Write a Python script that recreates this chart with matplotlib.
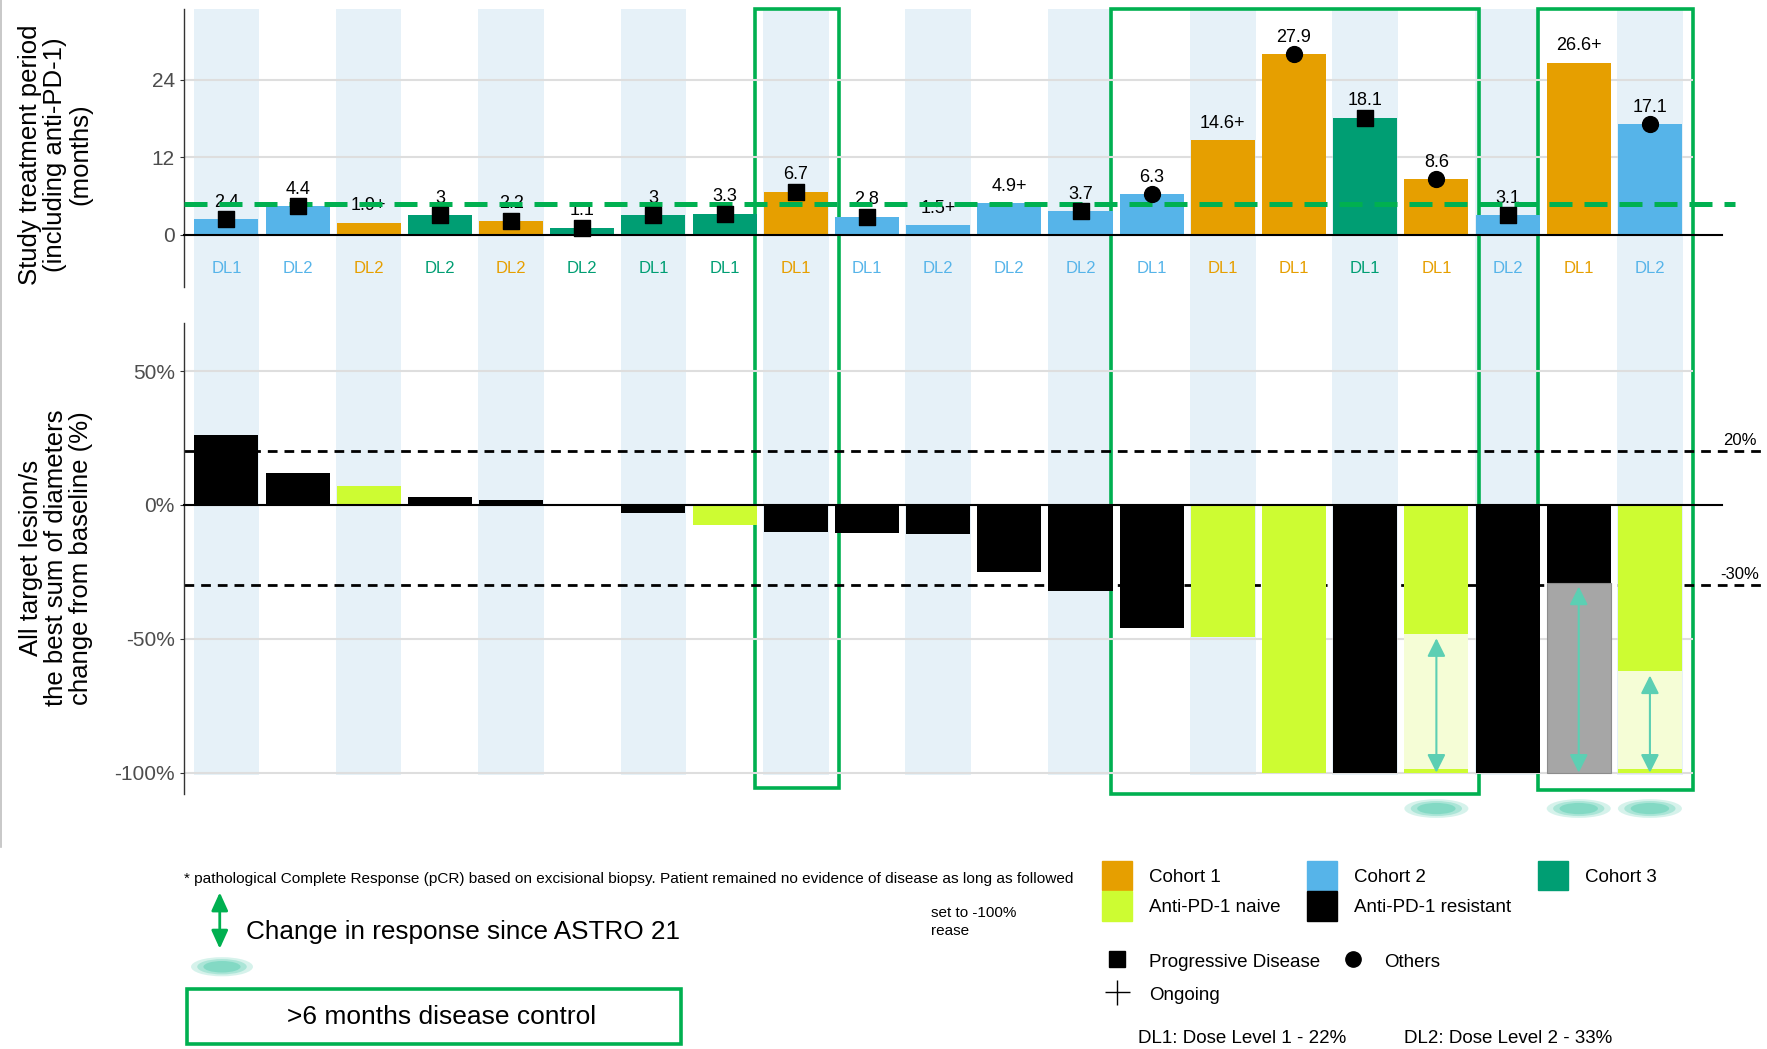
import numpy as np
import matplotlib.pyplot as plt
from matplotlib.patches import Rectangle, Patch, Ellipse
from matplotlib.lines import Line2D
from matplotlib.transforms import blended_transform_factory

plt.rcParams['font.family'] = ['Liberation Sans', 'DejaVu Sans']

# ---- data (one entry per patient, left to right) ----
dose = ['DL1', 'DL2', 'DL2', 'DL2', 'DL2', 'DL2', 'DL1', 'DL1', 'DL1', 'DL1', 'DL2',
        'DL2', 'DL2', 'DL1', 'DL1', 'DL1', 'DL1', 'DL1', 'DL2', 'DL1', 'DL2']
cohort = [2, 2, 1, 3, 1, 3, 3, 3, 1, 2, 2, 2, 2, 2, 1, 1, 3, 1, 2, 1, 2]
months = [2.4, 4.4, 1.9, 3, 2.2, 1.1, 3, 3.3, 6.7, 2.8, 1.5, 4.9, 3.7, 6.3,
          14.6, 27.9, 18.1, 8.6, 3.1, 26.6, 17.1]
month_labels = ['2.4', '4.4', '1.9+', '3', '2.2', '1.1', '3', '3.3', '6.7', '2.8', '1.5+',
                '4.9+', '3.7', '6.3', '14.6+', '27.9', '18.1', '8.6', '3.1', '26.6+', '17.1']
status = ['PD', 'PD', '', 'PD', 'PD', 'PD', 'PD', 'PD', 'PD', 'PD', '', '', 'PD', 'Other',
          '', 'Other', 'PD', 'Other', 'PD', '', 'Other']
response = [26, 12, 7, 3, 2, 0, -3, -7.6, -10, -10.5, -11, -25, -32, -46, -49.5,
            -100, -100, -48.3, -100, -29, -62.2]
pd1 = ['res', 'res', 'naive', 'res', 'res', 'res', 'res', 'naive', 'res', 'res', 'res',
       'res', 'res', 'res', 'naive', 'naive', 'res', 'naive', 'res', 'res', 'naive']
# best response now (change since ASTRO 21), None = unchanged
response_new = [None] * 17 + [-100, None, -100, -100]
# patients with >6 months disease control, grouped as boxed runs
control_groups = [(8, 8), (13, 17), (19, 20)]
control_box_bottom = [699, 705, 701]

cohort_colors = {1: '#E69F00', 2: '#56B4E9', 3: '#009E73'}
pd1_colors = {'naive': '#CDFC32', 'res': '#000000'}
faded = {'naive': '#F5FDD6', 'res': '#A6A6A6'}
green = '#00B050'
teal = '#5CCFB3'
stripe = '#E6F1F8'

W, H = 1568, 931
def fx(px):
    return px / W
def fy(py):
    return 1 - py / H

fig = plt.figure(figsize=(17.67, 10.49), dpi=100)

x = np.arange(len(months))
xlim = (-0.6, 20.6)
left, right = 163, 1502

# background stripes and boxes
bg = fig.add_axes([fx(left), 0, fx(right) - fx(left), 1], zorder=0)
bg.set_xlim(xlim)
bg.set_ylim(0, 1)
bg.axis('off')
bg.bar(x[::2], fy(8) - fy(688), bottom=fy(688), width=0.92, color=stripe)

# top panel: study treatment period
ax1 = fig.add_axes([fx(left), fy(255), fx(right) - fx(left), fy(8) - fy(255)], zorder=1)
ax1.set_facecolor('none')
ax1.set_xlim(xlim)
ax1.set_ylim(-8.1, 34.9)
ax1.bar(x, months, width=0.9, color=[cohort_colors[c] for c in cohort], zorder=2)
for xi, m, lab, c, d in zip(x, months, month_labels, cohort, dose):
    ax1.text(xi, m + 1.9, lab, ha='center', va='baseline', fontsize=13, zorder=3)
    ax1.text(xi, -5.2, d, ha='center', va='center', fontsize=12,
             color=cohort_colors[c])
pd_idx = [i for i, s in enumerate(status) if s == 'PD']
ot_idx = [i for i, s in enumerate(status) if s == 'Other']
ax1.scatter(x[pd_idx], np.array(months)[pd_idx], marker='s', s=120, color='k', zorder=5)
ax1.scatter(x[ot_idx], np.array(months)[ot_idx], marker='o', s=130, color='k', zorder=5)
ax1.axhline(4.7, xmax=(1540 - left) / (right - left), color=green, lw=3.6,
            ls=(0, (4.6, 2.4)), clip_on=False, zorder=4)
ax1.axhline(0, xmax=(1528 - left) / (right - left), color='k', lw=1.5,
            clip_on=False, zorder=3)
ax1.set_yticks([0, 12, 24])
ax1.set_xticks([])
ax1.grid(axis='y', color='#DEDEDE', lw=1.5)
ax1.set_axisbelow(True)

# bottom panel: best change from baseline
ax2 = fig.add_axes([fx(left), fy(705), fx(right) - fx(left), fy(287) - fy(705)], zorder=1)
ax2.set_facecolor('none')
ax2.set_xlim(xlim)
ax2.set_ylim(-108.1, 67.8)
ax2.bar(x, response, width=0.9, color=[pd1_colors[p] for p in pd1], zorder=2)
for i, new in enumerate(response_new):
    if new is None:
        continue
    old = response[i]
    p = pd1[i]
    ax2.bar(i, new - old, bottom=old, width=0.9, color=faded[p], zorder=2,
            edgecolor='#8C8C8C' if p == 'res' else 'none', lw=0.8)
    if p == 'naive':
        ax2.bar(i, -1.3, bottom=new + 1.3, width=0.9, color=pd1_colors[p], zorder=2)
    ax2.annotate('', xy=(i, new), xytext=(i, old - 1.5),
                 arrowprops=dict(arrowstyle='<|-|>,head_length=1.1,head_width=0.55',
                                 color=teal, lw=1.5, shrinkA=0, shrinkB=0), zorder=4)
    for k, a in zip([1.0, 0.8, 0.6], [0.25, 0.35, 0.5]):
        ax2.add_patch(Ellipse((i, -113.4), 0.9 * k, 7.0 * k, color=teal, alpha=a,
                              lw=0, clip_on=False))
for val in [20, -30]:
    ax2.axhline(val, xmax=1.1, color='k', lw=2, ls=(0, (3.5, 2.5)), clip_on=False, zorder=1.5)
    ax2.text(1.031, val + 2.3, f'{val}%', transform=blended_transform_factory(ax2.transAxes, ax2.transData),
             ha='center', va='baseline', fontsize=12)
ax2.axhline(0, xmax=(1528 - left) / (right - left), color='k', lw=1.5,
            clip_on=False, zorder=3)
ax2.set_yticks([-100, -50, 0, 50])
ax2.set_yticklabels(['-100%', '-50%', '0%', '50%'])
ax2.set_xticks([])
ax2.grid(axis='y', color='#DEDEDE', lw=1.5)
ax2.set_axisbelow(True)

for ax in (ax1, ax2):
    for s in ['top', 'right', 'bottom']:
        ax.spines[s].set_visible(False)
    ax.spines['left'].set_color('#333333')
    ax.spines['left'].set_linewidth(1)
    ax.tick_params(axis='y', labelsize=15, labelcolor='#4D4D4D', color='#333333', length=3)

# green boxes for >6 months disease control
for (a, b), bot in zip(control_groups, control_box_bottom):
    bg.add_patch(Rectangle((a - 0.57, fy(bot)), (b + 0.6) - (a - 0.57), fy(8) - fy(bot),
                           fill=False, ec=green, lw=2.6, clip_on=False, zorder=6))

# axis titles
fig.text(fx(49), fy(137), 'Study treatment period\n(including anti-PD-1)\n(months)',
         rotation=90, ha='center', va='center', fontsize=18.5, linespacing=1.05)
fig.text(fx(50), fy(495), 'All target lesion/s\nthe best sum of diameters\nchange from baseline (%)',
         rotation=90, ha='center', va='center', fontsize=18.5, linespacing=1.05)

# slide edge
fig.add_artist(Line2D([0.0008, 0.0008], [1, fy(752)], color='#BFBFBF', lw=1.2))

# footnotes
fig.text(fx(163), fy(780), '* pathological Complete Response (pCR) based on excisional biopsy. '
         'Patient remained no evidence of disease as long as followed',
         ha='left', va='center', fontsize=11.1)
fig.text(fx(826), fy(810), 'set to -100%', ha='left', va='center', fontsize=11)
fig.text(fx(826), fy(826), 'rease', ha='left', va='center', fontsize=11)

fig.add_artist(plt.Annotation('', xy=(fx(195), fy(842)), xytext=(fx(195), fy(792)),
                              xycoords='figure fraction', textcoords='figure fraction',
                              arrowprops=dict(arrowstyle='<|-|>,head_length=1.1,head_width=0.5',
                                              color=green, lw=2, shrinkA=0, shrinkB=0)))
fig.text(fx(218), fy(827), 'Change in response since ASTRO 21', ha='left', va='center', fontsize=18.8)
for k, a in zip([1.0, 0.8, 0.6], [0.25, 0.35, 0.5]):
    fig.add_artist(Ellipse((fx(197), fy(858)), fx(55) * k, (17 / H) * k,
                           transform=fig.transFigure, color=teal, alpha=a, lw=0))
fig.add_artist(Rectangle((fx(166), fy(927)), fx(604) - fx(166), fy(878) - fy(927),
                         transform=fig.transFigure, fill=False, ec=green, lw=2.6))
fig.text(fx(392), fy(903), '>6 months disease control', ha='center', va='center', fontsize=19)

# legends
h1 = [Patch(color=cohort_colors[1], label='Cohort 1'),
      Patch(color=pd1_colors['naive'], label='Anti-PD-1 naive'),
      Patch(color=cohort_colors[2], label='Cohort 2'),
      Patch(color=pd1_colors['res'], label='Anti-PD-1 resistant'),
      Patch(color=cohort_colors[3], label='Cohort 3')]
fig.legend(handles=h1, loc='upper left', bbox_to_anchor=(fx(978), fy(764)), ncol=3,
           frameon=False, fontsize=13.5, borderpad=0, borderaxespad=0, handlelength=1.62,
           handleheight=2.05, handletextpad=0.9, columnspacing=1.4, labelspacing=0.05)
h2 = [Line2D([], [], marker='s', color='k', ls='none', markersize=11, label='Progressive Disease'),
      Line2D([], [], marker='+', color='k', ls='none', markersize=18, mew=1, label='Ongoing'),
      Line2D([], [], marker='o', color='k', ls='none', markersize=11, label='Others')]
fig.legend(handles=h2, loc='upper left', bbox_to_anchor=(fx(978), fy(844)), ncol=2,
           frameon=False, fontsize=13.5, borderpad=0, borderaxespad=0, handlelength=1.62,
           handleheight=1.2, handletextpad=0.9, columnspacing=0.9, labelspacing=0.68)
fig.text(fx(1010), fy(922), 'DL1: Dose Level 1 - 22%', ha='left', va='center', fontsize=13.5)
fig.text(fx(1246), fy(922), 'DL2: Dose Level 2 - 33%', ha='left', va='center', fontsize=13.5)

fig.savefig('out.png', dpi=100)
